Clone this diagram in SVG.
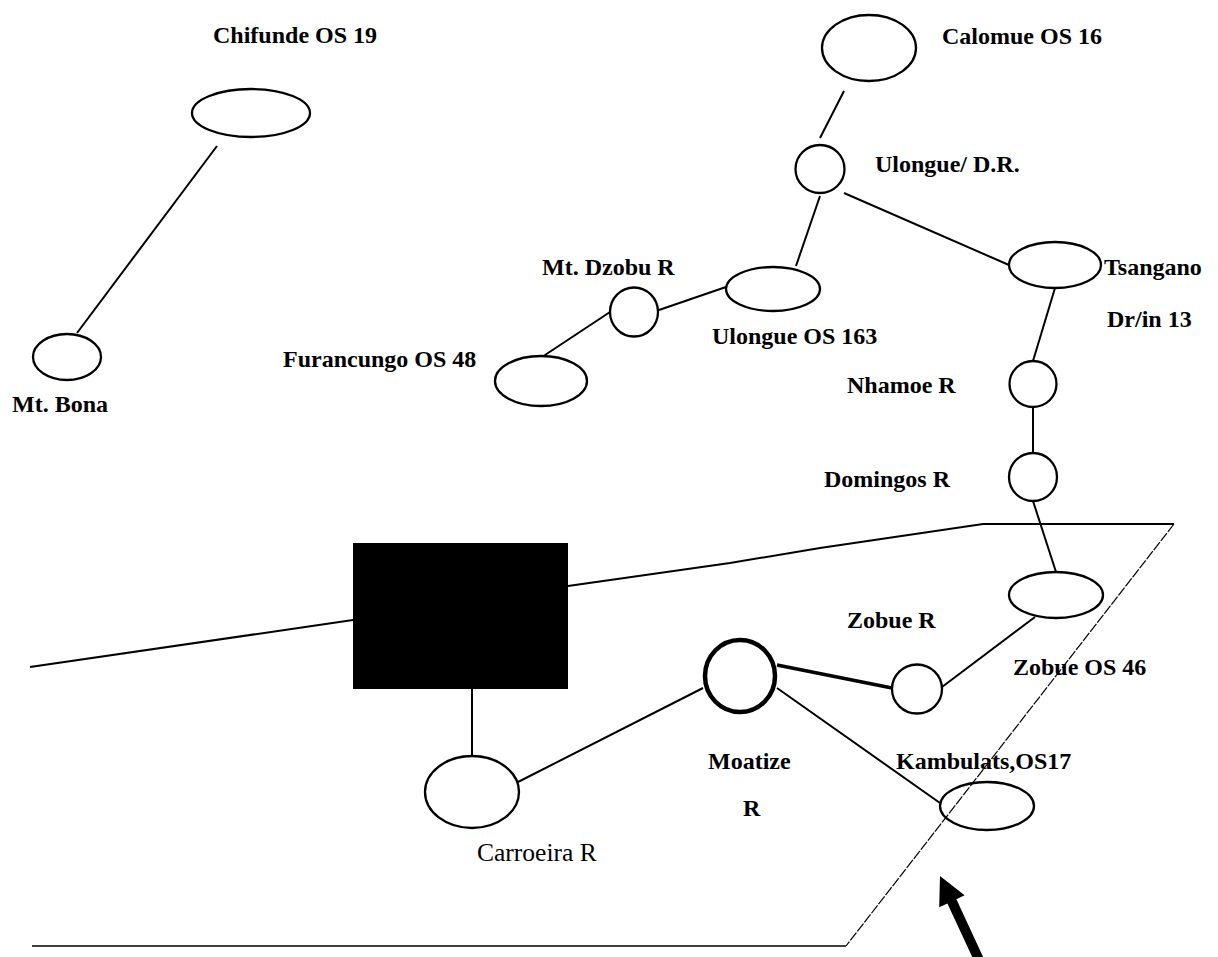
<svg xmlns="http://www.w3.org/2000/svg" width="1218" height="957" viewBox="0 0 1218 957">
<style>
.n{fill:#fff;stroke:#000;stroke-width:2.3}
.thick{stroke-width:4.5}
.c line{stroke:#000;stroke-width:2}
.t{font-family:"Liberation Serif","Times New Roman",serif;font-size:24px;font-weight:bold;fill:#000}
.r{font-weight:normal;font-size:25.5px}
.b{fill:none;stroke:#000}
</style>
<rect width="1218" height="957" fill="#fff"/>
<g id="boundary">
<polyline class="b" stroke-width="2" points="30,667 353,620 568,586 730,563 820,548 983,524 1174,524"/>
<line class="b" stroke-width="1.2" stroke-dasharray="10 1.5" x1="1174" y1="524" x2="846" y2="946"/>
<line class="b" stroke-width="1.6" x1="846" y1="946" x2="32" y2="946"/>
</g>
<g class="c" id="connectors">
<line x1="217" y1="146" x2="77" y2="333"/>
<line x1="844" y1="91" x2="820" y2="138"/>
<line x1="820" y1="196" x2="796" y2="266"/>
<line x1="844" y1="193" x2="1009" y2="265"/>
<line x1="726" y1="287" x2="659" y2="310"/>
<line x1="610" y1="312" x2="542" y2="357"/>
<line x1="1055" y1="288" x2="1033" y2="361"/>
<line x1="1033" y1="407" x2="1033" y2="453"/>
<line x1="1033" y1="501" x2="1056" y2="572"/>
<line x1="1035" y1="617" x2="942" y2="687"/>
<line x1="777" y1="665" x2="892" y2="688" style="stroke-width:3.5"/>
<line x1="777" y1="688" x2="940" y2="803"/>
<line x1="518" y1="782" x2="703" y2="688"/>
<line x1="472" y1="689" x2="472" y2="757"/>
</g>
<g id="chifunde"><ellipse class="n" cx="251" cy="113" rx="59" ry="24"/><text class="t" x="213" y="43">Chifunde OS 19</text></g>
<g id="mt-bona"><ellipse class="n" cx="67" cy="357" rx="34" ry="23"/><text class="t" x="12" y="412">Mt. Bona</text></g>
<g id="calomue"><ellipse class="n" cx="869" cy="48" rx="47" ry="33"/><text class="t" x="942" y="44">Calomue OS 16</text></g>
<g id="ulongue-dr"><ellipse class="n" cx="820" cy="169" rx="24.5" ry="24"/><text class="t" x="875" y="172">Ulongue/ D.R.</text></g>
<g id="tsangano"><ellipse class="n" cx="1055" cy="265" rx="46" ry="23"/><text class="t" x="1104" y="275">Tsangano</text><text class="t" x="1107" y="327">Dr/in 13</text></g>
<g id="ulongue-163"><ellipse class="n" cx="773" cy="289" rx="47" ry="22"/><text class="t" x="712" y="344">Ulongue OS 163</text></g>
<g id="mt-dzobu"><ellipse class="n" cx="634" cy="312" rx="24" ry="24.5"/><text class="t" x="542" y="275">Mt. Dzobu R</text></g>
<g id="furancungo"><ellipse class="n" cx="541" cy="381" rx="46" ry="25"/><text class="t" x="283" y="367">Furancungo OS 48</text></g>
<g id="nhamoe"><ellipse class="n" cx="1033" cy="384" rx="23.5" ry="23"/><text class="t" x="847" y="393">Nhamoe R</text></g>
<g id="domingos"><ellipse class="n" cx="1033" cy="477" rx="24" ry="24"/><text class="t" x="824" y="487">Domingos R</text></g>
<g id="zobue-os46"><ellipse class="n" cx="1056" cy="595" rx="47" ry="23"/><text class="t" x="1013" y="675">Zobue OS 46</text></g>
<g id="zobue-r"><ellipse class="n" cx="917" cy="689" rx="25" ry="24.5"/><text class="t" x="847" y="628">Zobue R</text></g>
<g id="moatize"><ellipse class="n thick" cx="740" cy="676" rx="35" ry="36"/><text class="t" x="708" y="769">Moatize</text><text class="t" x="743" y="816">R</text></g>
<g id="kambulats"><ellipse class="n" cx="987" cy="806" rx="47" ry="24" style="fill:none"/><text class="t" x="896" y="769">Kambulats,OS17</text></g>
<g id="carroeira"><ellipse class="n" cx="472" cy="792" rx="47" ry="36"/><text class="t r" x="477" y="861">Carroeira R</text></g>
<g id="block"><rect x="353" y="543" width="215" height="146" fill="#000"/></g>
<g id="arrow"><polygon fill="#000" points="940,876 964.6,895.3 956.4,899.2 984.5,960 975.5,964 947.4,903.4 939.2,907.3"/></g>
</svg>
